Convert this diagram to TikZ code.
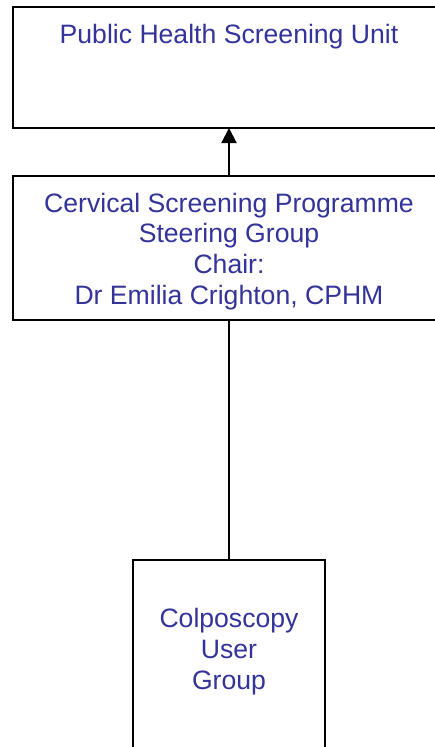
\documentclass[tikz,border=0pt]{standalone}
\usepackage{fontspec}
\setmainfont{Liberation Sans}
\usetikzlibrary{arrows.meta}
\definecolor{labelblue}{RGB}{51,51,153}
\begin{document}
\begin{tikzpicture}[x=1pt,y=1pt,
  box/.style={draw=black,line width=2pt,fill=white,inner sep=0pt,outer sep=0pt},
  lbl/.style={text=labelblue,align=center,inner sep=0pt,anchor=base,
    font=\fontsize{26.6}{30.6}\selectfont},
  link/.style={draw=black,line width=2pt}]
\useasboundingbox (0,0) rectangle (435,-747);
\clip (0,0) rectangle (435,-747);
% organisation boxes
\node[box,minimum width=433pt,minimum height=121pt] (unit) at (229,-67.5) {};
\node[box,minimum width=433pt,minimum height=144pt] (steer) at (229,-248) {};
\node[box,minimum width=192pt,minimum height=240pt] (colpo) at (229,-680) {};
% reporting lines
\draw[link,-{Triangle[width=15pt,length=15pt]}] (steer.north) -- (unit.south);
\draw[link] (steer.south) -- (colpo.north);
% box titles (base anchor sits on the last line)
\node[lbl] (unitlbl) at (229,-43) {Public Health Screening Unit};
\node[lbl] (steerlbl) at (229,-304) {Cervical Screening Programme\\Steering Group\\Chair:\\Dr Emilia Crighton, CPHM};
\node[lbl] (colpolbl) at (229,-689) {Colposcopy\\User\\Group};
\end{tikzpicture}
\end{document}
